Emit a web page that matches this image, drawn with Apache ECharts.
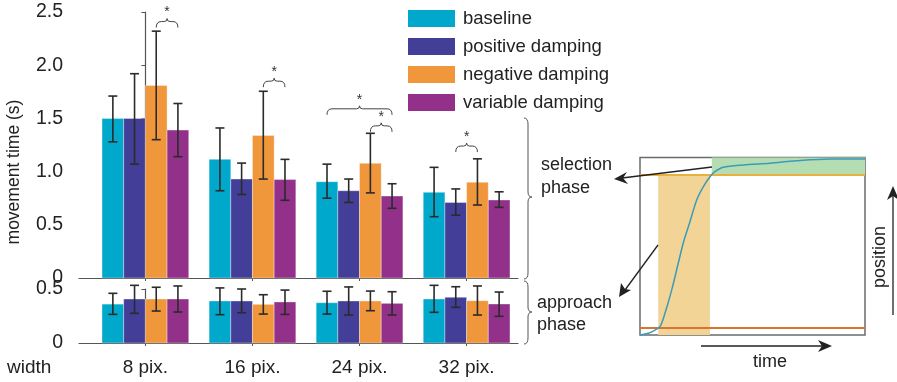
<!DOCTYPE html>
<html>
<head>
<meta charset="utf-8">
<script src="https://cdn.jsdelivr.net/npm/echarts@6/dist/echarts.min.js"></script>
<style>html,body{margin:0;padding:0;background:#fff}#c{width:897px;height:382px}</style>
</head>
<body>
<div id="c"></div>
<script>
// ---------- data ----------
const categories = ['8 pix.', '16 pix.', '24 pix.', '32 pix.'];
const seriesNames = ['baseline', 'positive damping', 'negative damping', 'variable damping'];
const seriesColors = ['#00A9CB', '#433E98', '#F0963B', '#93308A'];

// selection phase: [mean, lower, upper] per width
const selBaseline = [[1.50, 1.28, 1.71], [1.115, 0.82, 1.41], [0.905, 0.75, 1.07], [0.805, 0.576, 1.04]];
const selPositive = [[1.50, 1.07, 1.92], [0.93, 0.785, 1.08], [0.82, 0.71, 0.93], [0.71, 0.59, 0.837]];
const selNegative = [[1.81, 1.30, 2.32], [1.34, 0.93, 1.755], [1.078, 0.80, 1.36], [0.90, 0.686, 1.12]];
const selVariable = [[1.39, 1.14, 1.64], [0.925, 0.73, 1.115], [0.77, 0.655, 0.886], [0.733, 0.664, 0.81]];

// approach phase: [mean, lower, upper] per width
const appBaseline = [[0.36, 0.265, 0.46], [0.389, 0.262, 0.51], [0.373, 0.268, 0.479], [0.407, 0.284, 0.534]];
const appPositive = [[0.407, 0.275, 0.534], [0.389, 0.28, 0.50], [0.389, 0.259, 0.519], [0.423, 0.33, 0.521]];
const appNegative = [[0.407, 0.296, 0.516], [0.358, 0.268, 0.447], [0.389, 0.299, 0.481], [0.392, 0.259, 0.528]];
const appVariable = [[0.407, 0.287, 0.528], [0.38, 0.265, 0.49], [0.367, 0.259, 0.475], [0.361, 0.247, 0.472]];

// significance brackets (selection phase)
const sigGroup = [0, 1, 2, 2, 3];
const sigFrom = [2, 2, 0, 2, 1];
const sigTo = [3, 3, 3, 3, 2];
const sigLevel = [2.41, 1.85, 1.59, 1.43, 1.24];

// y tick values
const selTicks = [0, 0.5, 1.0, 1.5, 2.0, 2.5];
const appTicks = [0, 0.5];

// inset: example trajectory
const curveTime = [0, 3.7, 6.7, 8.9, 11.1, 14.1, 17.0, 19.2, 22.2, 25.2, 28.1, 31.1, 33.3, 37.0, 45.9, 57.8, 69.6, 84.4, 100];
const curvePos  = [0, 1.0, 2.8, 4.7, 12.2, 25.4, 40.4, 51.7, 63.8, 76.1, 83.5, 89.2, 92.0, 94.5, 95.8, 96.8, 98.2, 99.2, 99.2];
const approachSpan = [8.1, 31.1];
const selectionSpan = [31.9, 100];
const startLevel = 4.1;
const targetLevel = 90.5;

// ---------- chart ----------
const FONT = "'Liberation Sans', Arial, sans-serif";
const TXT = '#222';
const AX = '#555';
const chart = echarts.init(document.getElementById('c'), null, {renderer: 'canvas'});

const selData = [selBaseline, selPositive, selNegative, selVariable];
const appData = [appBaseline, appPositive, appNegative, appVariable];
const BAR_FRAC = 0.2025;

function barRenderer(sIdx) {
  return function (params, api) {
    const g = api.value(0), m = api.value(1), lo = api.value(2), hi = api.value(3);
    const band = api.size([1, 0])[0];
    const bw = band * BAR_FRAC;
    const base = api.coord([g, 0]);
    const xc = base[0] + (sIdx - 1.5) * bw;
    const top = api.coord([g, m])[1];
    const yLo = api.coord([g, lo])[1];
    const yHi = api.coord([g, hi])[1];
    const cap = 4.5;
    const es = {stroke: '#2b2b2b', lineWidth: 1.6};
    return {
      type: 'group',
      children: [
        {type: 'rect', shape: {x: xc - bw / 2, y: top, width: bw, height: base[1] - top},
          style: {fill: seriesColors[sIdx], stroke: 'rgba(255,255,255,0.35)', lineWidth: 1}},
        {type: 'line', shape: {x1: xc, y1: yHi, x2: xc, y2: yLo}, style: es},
        {type: 'line', shape: {x1: xc - cap, y1: yHi, x2: xc + cap, y2: yHi}, style: es},
        {type: 'line', shape: {x1: xc - cap, y1: yLo, x2: xc + cap, y2: yLo}, style: es}
      ]
    };
  };
}

function braceRenderer(params, api) {
  const g = api.value(0), f = api.value(1), t = api.value(2), lv = api.value(3);
  const band = api.size([1, 0])[0];
  const bw = band * BAR_FRAC;
  const xc0 = api.coord([g, 0])[0];
  const x1 = xc0 + (f - 1.5) * bw;
  const x2 = xc0 + (t - 1.5) * bw;
  const y = api.coord([g, lv])[1];
  const xm = (x1 + x2) / 2;
  const p = `M${x1} ${y + 6} Q${x1} ${y} ${x1 + 5} ${y} L${xm - 3} ${y} Q${xm} ${y} ${xm} ${y - 3} Q${xm} ${y} ${xm + 3} ${y} L${x2 - 5} ${y} Q${x2} ${y} ${x2} ${y + 6}`;
  return {
    type: 'group',
    children: [
      {type: 'path', shape: {pathData: p}, style: {fill: 'none', stroke: '#444', lineWidth: 1}},
      {type: 'text', style: {text: '*', x: xm, y: y - 2, align: 'center', verticalAlign: 'bottom',
        fontSize: 14, fontFamily: FONT, fill: '#333'}}
    ]
  };
}

// vertical curly brace (annotation) built from primitive graphic elements
function vBrace(x, y1, y2, ym) {
  const s = {stroke: '#555', lineWidth: 1, fill: 'none'};
  const d = 4;
  return [
    {type: 'bezierCurve', shape: {x1: x, y1: y1, x2: x + d, y2: y1 + 6, cpx1: x + d, cpy1: y1}, style: s},
    {type: 'line', shape: {x1: x + d, y1: y1 + 6, x2: x + d, y2: ym - 5}, style: s},
    {type: 'bezierCurve', shape: {x1: x + d, y1: ym - 5, x2: x + 2 * d, y2: ym, cpx1: x + d, cpy1: ym}, style: s},
    {type: 'bezierCurve', shape: {x1: x + 2 * d, y1: ym, x2: x + d, y2: ym + 5, cpx1: x + d, cpy1: ym}, style: s},
    {type: 'line', shape: {x1: x + d, y1: ym + 5, x2: x + d, y2: y2 - 6}, style: s},
    {type: 'bezierCurve', shape: {x1: x + d, y1: y2 - 6, x2: x, y2: y2, cpx1: x + d, cpy1: y2}, style: s}
  ];
}

const series = [];
for (let s = 0; s < 4; s++) {
  series.push({
    type: 'custom', name: seriesNames[s], xAxisIndex: 0, yAxisIndex: 0, clip: false,
    itemStyle: {color: seriesColors[s]},
    renderItem: barRenderer(s),
    encode: {x: 0, y: 1},
    data: selData[s].map((d, g) => [g, d[0], d[1], d[2]])
  });
  series.push({
    type: 'custom', name: seriesNames[s], xAxisIndex: 1, yAxisIndex: 1, clip: false,
    itemStyle: {color: seriesColors[s]},
    renderItem: barRenderer(s),
    encode: {x: 0, y: 1},
    data: appData[s].map((d, g) => [g, d[0], d[1], d[2]])
  });
}
series.push({
  type: 'custom', xAxisIndex: 0, yAxisIndex: 0, clip: false, silent: true,
  renderItem: braceRenderer, encode: {x: 0, y: 3},
  data: sigGroup.map((g, i) => [g, sigFrom[i], sigTo[i], sigLevel[i]])
});
// inset
series.push({
  type: 'line', xAxisIndex: 2, yAxisIndex: 2, showSymbol: false, symbol: 'none', smooth: 0.3,
  lineStyle: {color: '#3A9BBA', width: 1.5}, z: 5, silent: true,
  data: curveTime.map((t, i) => [t, curvePos[i]]),
  markArea: {
    silent: true,
    data: [
      [{xAxis: approachSpan[0], yAxis: 0, itemStyle: {color: '#F2D496'}}, {xAxis: approachSpan[1], yAxis: targetLevel}],
      [{xAxis: selectionSpan[0], yAxis: targetLevel, itemStyle: {color: '#B5DDB2'}}, {xAxis: selectionSpan[1], yAxis: 100}]
    ]
  },
  markLine: {
    silent: true, symbol: ['none', 'none'], label: {show: false},
    data: [
      {yAxis: targetLevel, lineStyle: {color: '#E8B03E', width: 2, type: 'solid'}},
      {yAxis: startLevel, lineStyle: {color: '#DC7331', width: 2, type: 'solid'}}
    ]
  }
});

const xBase = {
  type: 'value', min: -0.62, max: 3.48,
  splitLine: {show: false},
  axisLine: {lineStyle: {color: AX, width: 1.2}},
  axisTick: {show: true, customValues: [0, 1, 2, 3], length: 3, inside: false, lineStyle: {color: AX}},
};

const FS = 18;
const txt = (x, y, t, extra) => Object.assign({type: 'text', x: x, y: y,
  style: Object.assign({text: t, fontSize: FS, fill: TXT, fontFamily: FONT, verticalAlign: 'middle'}, extra || {})});

const option = {
  animation: false,
  backgroundColor: '#fff',
  textStyle: {fontFamily: FONT},
  legend: {
    orient: 'vertical', left: 403, top: 4, itemWidth: 47, itemHeight: 17, itemGap: 9,
    icon: 'rect', data: seriesNames,
    textStyle: {fontSize: 18.5, color: TXT, fontFamily: FONT, padding: [0, 0, 0, 3]},
    selectedMode: false
  },
  grid: [
    {left: 79, top: 12, width: 439, height: 266},
    {left: 79, top: 289, width: 439, height: 54},
    {left: 640, top: 157.5, width: 225, height: 177.5, show: true, borderColor: '#6b6b6b', borderWidth: 1.5}
  ],
  xAxis: [
    Object.assign({}, xBase, {gridIndex: 0, axisLabel: {show: false}}),
    Object.assign({}, xBase, {gridIndex: 1,
      axisLabel: {show: true, customValues: [0, 1, 2, 3], formatter: v => categories[Math.round(v)],
        fontSize: 19, color: TXT, margin: 15, fontFamily: FONT}}),
    {type: 'value', gridIndex: 2, min: 0, max: 100, show: false}
  ],
  yAxis: [
    {type: 'value', gridIndex: 0, min: 0, max: 2.5, interval: 0.5, splitLine: {show: false},
      axisLine: {show: true, lineStyle: {color: AX, width: 1.2}},
      axisTick: {show: true, length: 4, lineStyle: {color: AX}},
      axisLabel: {fontSize: 19.5, color: TXT, margin: 16, fontFamily: FONT,
        formatter: v => (v === 0 ? '0' : selTicks.find(t => Math.abs(t - v) < 1e-6).toFixed(1))}},
    {type: 'value', gridIndex: 1, min: 0, max: 0.5, interval: 0.5, splitLine: {show: false},
      axisLine: {show: true, lineStyle: {color: AX, width: 1.2}},
      axisTick: {show: true, length: 4, lineStyle: {color: AX}},
      axisLabel: {fontSize: 19.5, color: TXT, margin: 16, fontFamily: FONT,
        formatter: v => (v === 0 ? '0' : appTicks.find(t => Math.abs(t - v) < 1e-6).toFixed(1))}},
    {type: 'value', gridIndex: 2, min: 0, max: 100, show: false}
  ],
  series: series,
  graphic: [].concat(
    [
      txt(14, 172, 'movement time (s)', {align: 'center', fontSize: 17.5}),
      txt(7, 368, 'width', {align: 'left', fontSize: 19}),
      txt(541, 165, 'selection'), txt(541, 188, 'phase'),
      txt(537, 303, 'approach'), txt(537, 325, 'phase'),
      txt(770, 362, 'time', {align: 'center'}),
      txt(880, 257, 'position', {align: 'center'}),
      // arrows from inset
      {type: 'line', shape: {x1: 712, y1: 167, x2: 622, y2: 178}, style: {stroke: '#222', lineWidth: 1.3}, z: 10},
      {type: 'polygon', shape: {points: [[614, 179], [627, 172], [623, 178], [628, 184]]}, style: {fill: '#222'}, z: 10},
      {type: 'line', shape: {x1: 658, y1: 245, x2: 625, y2: 290}, style: {stroke: '#222', lineWidth: 1.3}, z: 10},
      {type: 'polygon', shape: {points: [[619, 297], [621, 283], [625, 289], [631, 290]]}, style: {fill: '#222'}, z: 10},
      // time arrow
      {type: 'line', shape: {x1: 701, y1: 346, x2: 825, y2: 346}, style: {stroke: '#222', lineWidth: 1.3}},
      {type: 'polygon', shape: {points: [[832, 346], [818, 340], [822, 346], [818, 352]]}, style: {fill: '#222'}},
      // position arrow
      {type: 'line', shape: {x1: 893, y1: 315, x2: 893, y2: 193}, style: {stroke: '#222', lineWidth: 1.3}},
      {type: 'polygon', shape: {points: [[893, 186], [887, 200], [893, 196], [899, 200]]}, style: {fill: '#222'}}
    ],
    vBrace(524, 118, 279, 197),
    vBrace(524, 281, 344, 312)
  )
};
option.graphic[0].rotation = Math.PI / 2;
option.graphic[7].rotation = Math.PI / 2;
chart.setOption(option);
</script>
</body>
</html>
